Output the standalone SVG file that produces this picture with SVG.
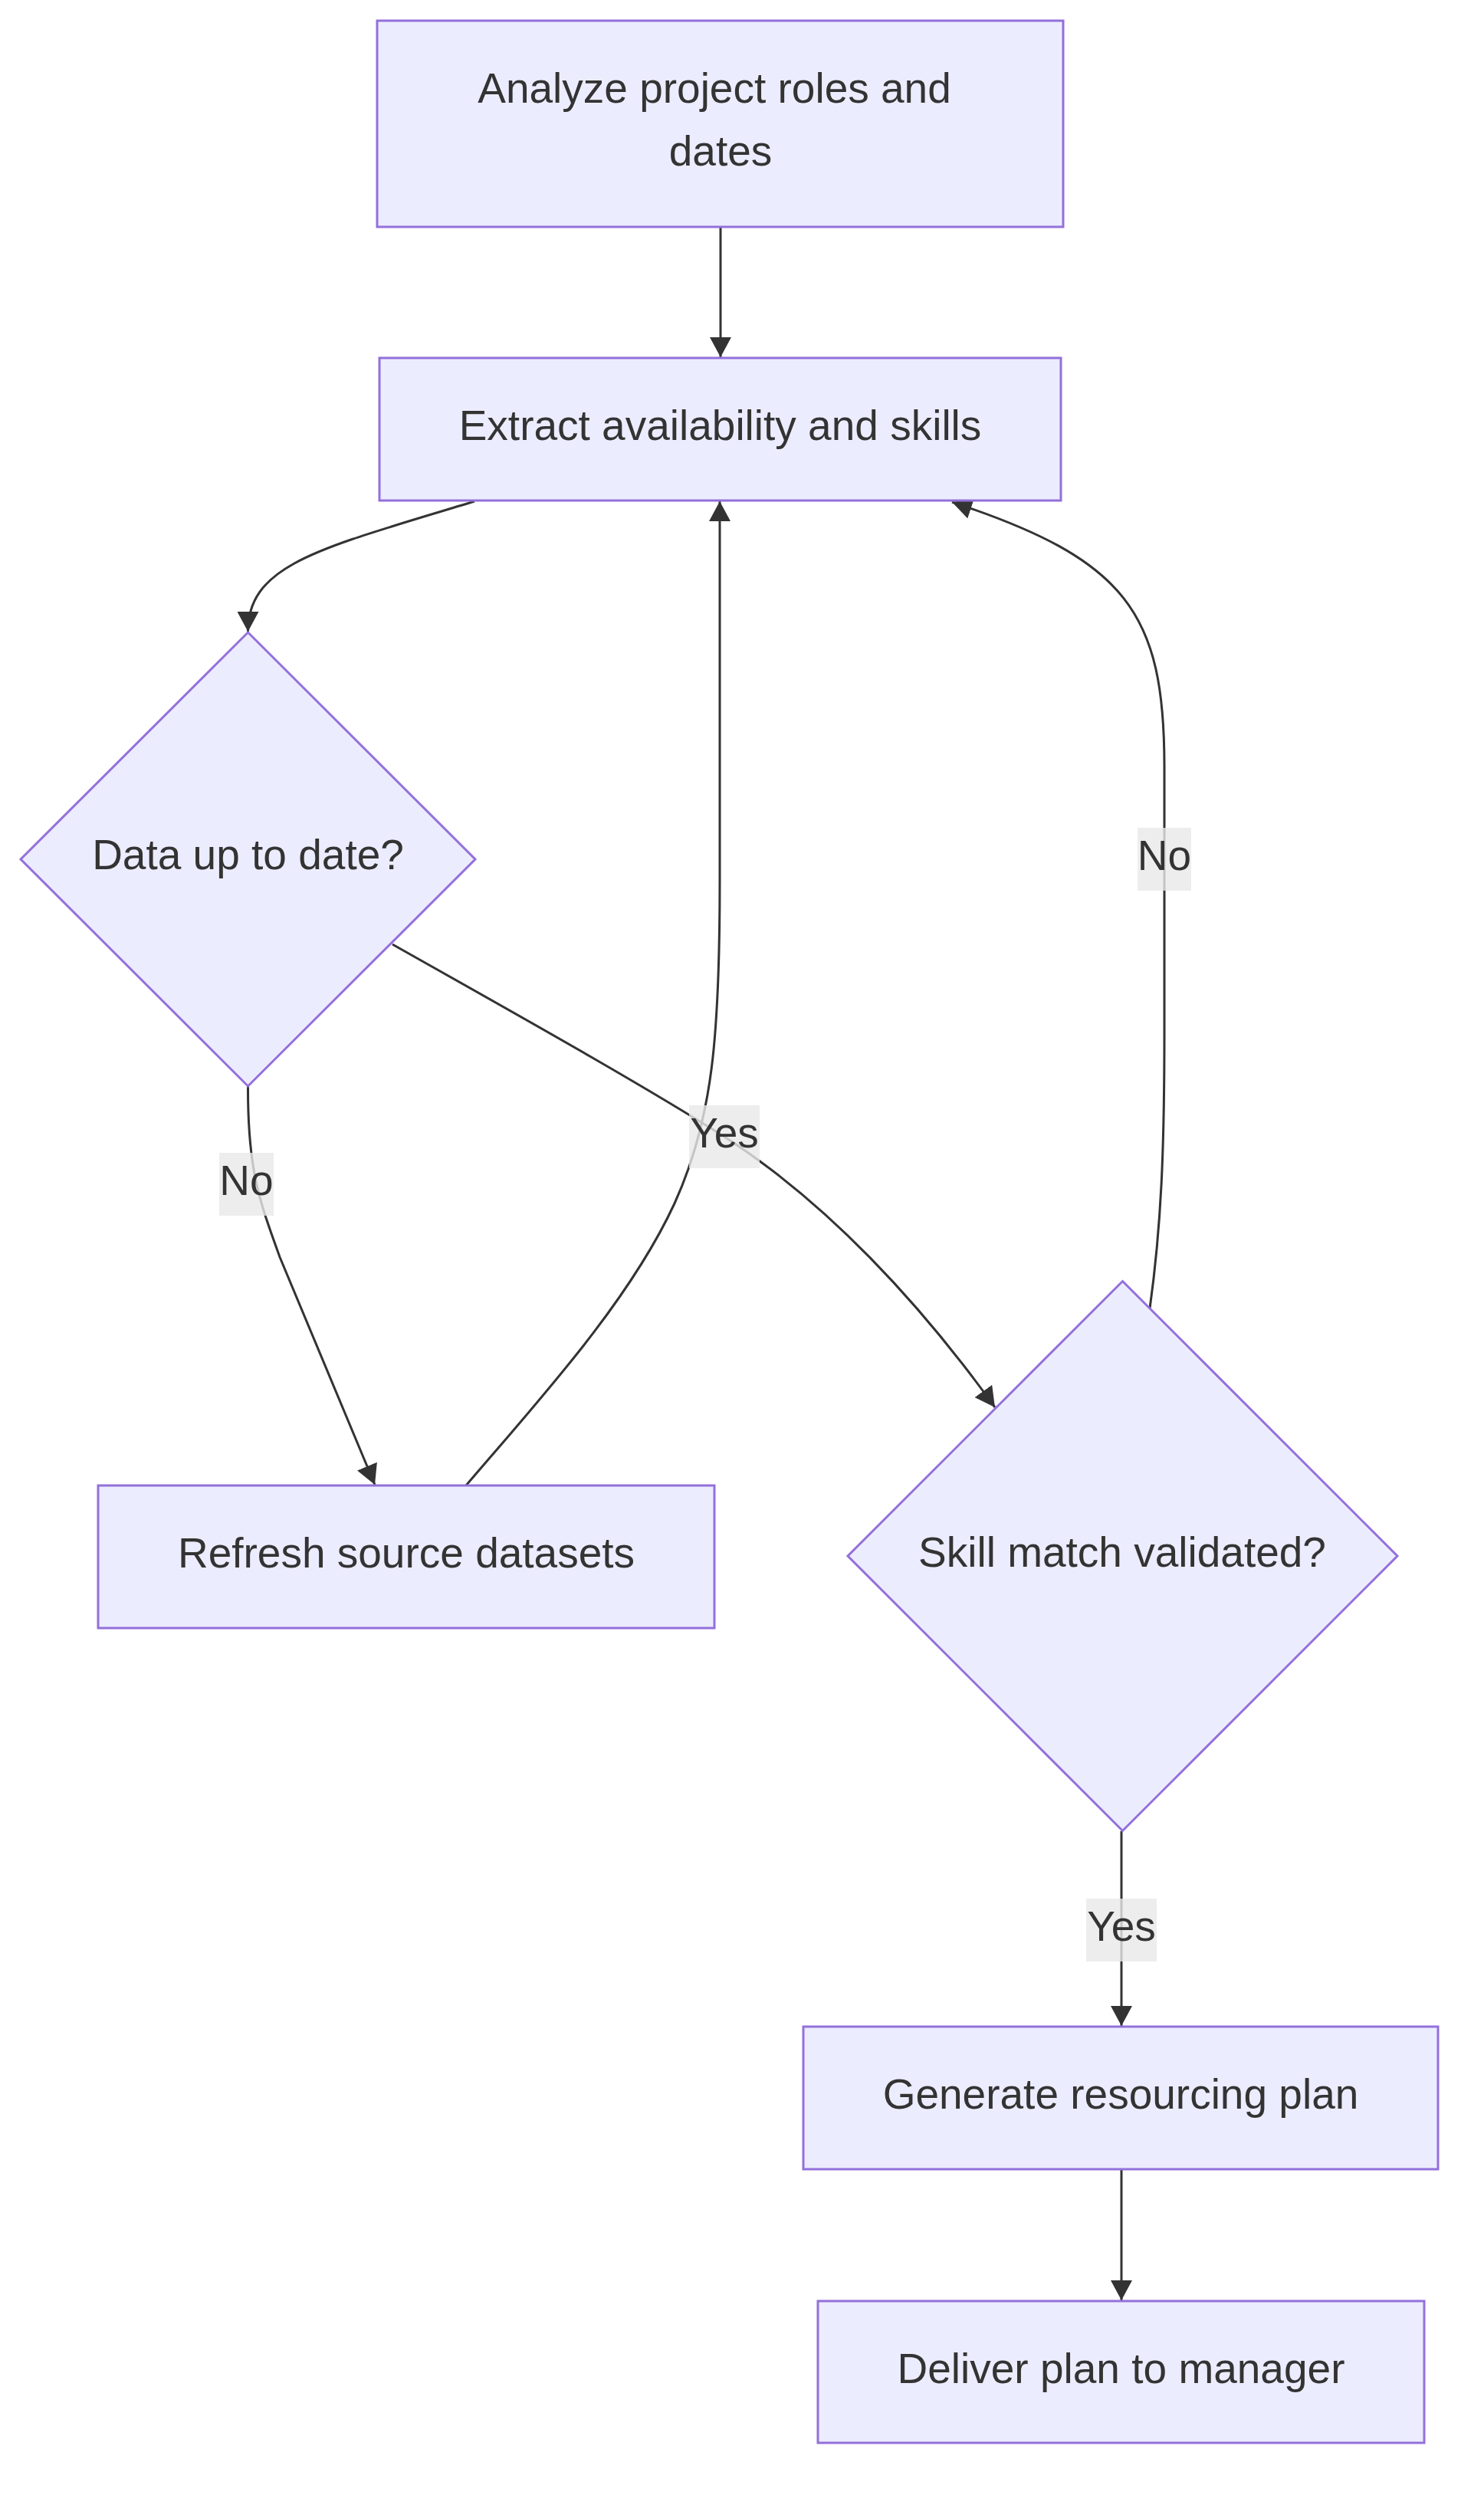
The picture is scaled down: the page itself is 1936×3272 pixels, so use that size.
<svg xmlns="http://www.w3.org/2000/svg" width="1936" height="3272" viewBox="0 0 1936 3272">
<style>
.node rect, .node polygon { fill: #ECECFF; stroke: #9370DB; stroke-width: 3; }
.node text, .label text { font-family: "Liberation Sans", Arial, sans-serif; font-size: 55px; fill: #333333; text-anchor: middle; }
.edge { fill: none; stroke: #333333; stroke-width: 3; }
.label rect { fill: #e8e8e8; fill-opacity: 0.8; }
</style>
<defs>
<marker id="arrow" viewBox="0 0 26 28" refX="26" refY="14" markerWidth="26" markerHeight="28" markerUnits="userSpaceOnUse" orient="auto">
<path d="M0,0 L26,14 L0,28 z" fill="#333333"/>
</marker>
</defs>
<rect width="1936" height="3272" fill="#ffffff"/>
<g id="connectors">
<path class="edge" d="M940,296 L940,466" marker-end="url(#arrow)"/>
<path class="edge" d="M619,654 C 420,715 323.5,735 323.5,824" marker-end="url(#arrow)"/>
<path class="edge" d="M323.5,1417 C 323,1530 340,1570 365,1640 L489,1937" marker-end="url(#arrow)"/>
<path class="edge" d="M512,1232 C 650,1310 830,1410 945,1483 C 1080,1570 1200,1700 1298,1836" marker-end="url(#arrow)"/>
<path class="edge" d="M608,1938 C 700,1830 820,1700 880,1570 C 930,1460 939,1350 939,1150 L939,654" marker-end="url(#arrow)"/>
<path class="edge" d="M1500,1707 C 1515,1600 1519,1500 1519,1350 L1519,1000 C 1519,800 1470,730 1242,655" marker-end="url(#arrow)"/>
<path class="edge" d="M1463,2389 L1463,2643" marker-end="url(#arrow)"/>
<path class="edge" d="M1463,2831 L1463,3001" marker-end="url(#arrow)"/>
</g>
<g id="edge-labels">
<g class="label" id="label-d1-no"><rect x="286" y="1504" width="71" height="82"/><text x="321.5" y="1559">No</text></g>
<g class="label" id="label-d1-yes"><rect x="899" y="1442" width="92" height="82"/><text x="945" y="1497">Yes</text></g>
<g class="label" id="label-d2-no"><rect x="1484" y="1080" width="70" height="82"/><text x="1519" y="1135">No</text></g>
<g class="label" id="label-d2-yes"><rect x="1417" y="2477" width="92" height="82"/><text x="1463" y="2532">Yes</text></g>
</g>
<g class="node" id="analyze">
<rect x="492" y="27" width="895" height="269"/>
<text x="932" y="134">Analyze project roles and</text>
<text x="940" y="216">dates</text>
</g>
<g class="node" id="extract">
<rect x="495" y="467" width="889" height="186"/>
<text x="939.5" y="574">Extract availability and skills</text>
</g>
<g class="node" id="uptodate">
<polygon points="323.5,825 620,1121 323.5,1417 27,1121"/>
<text x="323.5" y="1134">Data up to date?</text>
</g>
<g class="node" id="refresh">
<rect x="128" y="1938" width="804" height="186"/>
<text x="530" y="2045">Refresh source datasets</text>
</g>
<g class="node" id="skillmatch">
<polygon points="1464.5,1671.5 1823,2030 1464.5,2388.5 1106,2030"/>
<text x="1464" y="2044">Skill match validated?</text>
</g>
<g class="node" id="generate">
<rect x="1048" y="2644" width="828" height="186"/>
<text x="1462" y="2751">Generate resourcing plan</text>
</g>
<g class="node" id="deliver">
<rect x="1067" y="3002" width="791" height="185"/>
<text x="1462.5" y="3109">Deliver plan to manager</text>
</g>
</svg>
